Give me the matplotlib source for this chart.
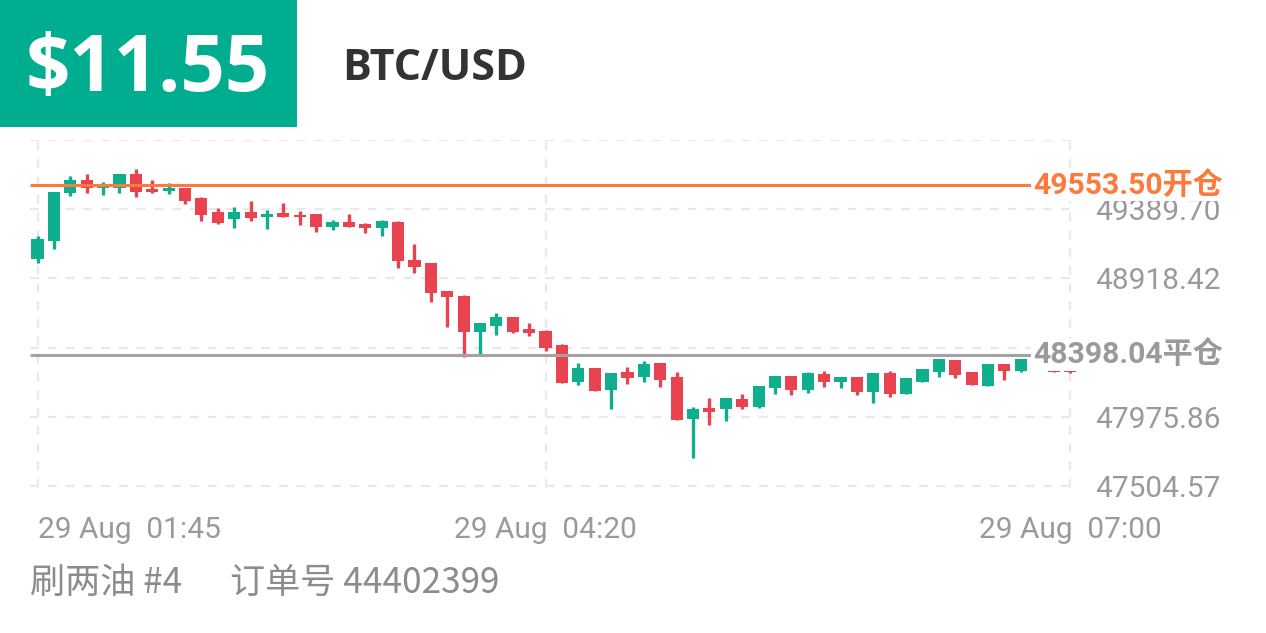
import matplotlib
matplotlib.use("Agg")
import matplotlib.pyplot as plt
from matplotlib.patches import Rectangle
import matplotlib.transforms as mtransforms
import numpy as np

# ---------------- data ----------------
pnl_text = "$11.55"
symbol = "BTC/USD"
footer_left = "刷两油 #4"
footer_right = "订单号 44402399"

# 5-minute candles, 29 Aug 01:45 -> 07:00
opens = [49050, 49173, 49500, 49588, 49534, 49534, 49629, 49527, 49514, 49534,
         49466, 49370, 49323, 49370, 49336, 49364, 49350, 49357, 49268, 49302,
         49289, 49262, 49302, 49044, 49023, 48833, 48798, 48553, 48594, 48655,
         48574, 48560, 48465, 48213, 48308, 48158, 48281, 48247, 48342, 48247,
         47961, 48036, 48029, 48097, 48043, 48172, 48254, 48158, 48267, 48213,
         48247, 48145, 48274, 48131, 48213, 48281, 48363, 48281, 48186, 48335,
         48288, 48369, 48295, 48295]
closes = [49187, 49507, 49588, 49534, 49554, 49629, 49507, 49507, 49534, 49445,
          49350, 49296, 49370, 49330, 49357, 49336, 49336, 49268, 49302, 49268,
          49262, 49309, 49037, 48996, 48819, 48792, 48553, 48615, 48655, 48553,
          48546, 48444, 48206, 48308, 48152, 48274, 48240, 48335, 48226, 47954,
          48029, 48008, 48104, 48043, 48186, 48254, 48158, 48274, 48213, 48247,
          48145, 48274, 48131, 48240, 48301, 48369, 48260, 48192, 48335, 48288,
          48369, 48335, 48281, 48281]
highs = [49207, 49507, 49616, 49629, 49575, 49629, 49663, 49588, 49568, 49534,
         49473, 49398, 49405, 49445, 49384, 49432, 49377, 49357, 49316, 49357,
         49296, 49316, 49309, 49153, 49023, 48833, 48805, 48615, 48683, 48655,
         48615, 48567, 48472, 48342, 48308, 48274, 48315, 48356, 48342, 48281,
         48043, 48104, 48104, 48131, 48186, 48254, 48254, 48281, 48288, 48247,
         48247, 48274, 48288, 48240, 48301, 48369, 48363, 48281, 48335, 48335,
         48369, 48369, 48295, 48301]
lows = [49023, 49119, 49479, 49500, 49486, 49500, 49473, 49500, 49493, 49425,
        49309, 49289, 49262, 49309, 49255, 49336, 49282, 49234, 49248, 49268,
        49227, 49207, 48989, 48955, 48758, 48587, 48383, 48403, 48533, 48546,
        48526, 48424, 48206, 48192, 48152, 48029, 48199, 48213, 48179, 47954,
        47695, 47920, 47947, 48029, 48036, 48131, 48124, 48138, 48179, 48172,
        48124, 48070, 48111, 48131, 48213, 48247, 48240, 48192, 48186, 48226,
        48281, 48322, 48281, 48274]

open_price = 49553.50
close_price = 48398.04
open_label = "49553.50开仓"
close_label = "48398.04平仓"

grid_values = [47504.57, 47975.86, 48447.14, 48918.42, 49389.70, 49860.99]
ytick_values = [47504.57, 47975.86, 48918.42, 49389.70]
ytick_labels = ["47504.57", "47975.86", "48918.42", "49389.70"]

xtick_idx = [0, 31, 63]
xtick_labels = ["29 Aug  01:45", "29 Aug  04:20", "29 Aug  07:00"]

# ---------------- style ----------------
GREEN = "#0fae8c"
RED = "#e8434f"
ORANGE = "#fb7a3c"
LINEGRAY = "#a3a3a3"
TEXTGRAY = "#9a9a9a"
GRID = "#e9e9e9"

W, H = 1266, 633
fig = plt.figure(figsize=(W / 100, H / 100), dpi=100)
fig.patch.set_facecolor("white")

def fx(px):
    return px / W

def fy(py):
    return 1 - py / H

# header
fig.patches.append(Rectangle((0, fy(127)), fx(297), 127 / H, transform=fig.transFigure,
                             facecolor="#00ad8f", edgecolor="none"))
fig.text(fx(148), fy(70), pnl_text, color="white", fontsize=56, fontweight="bold",
         family="Open Sans", ha="center", va="center")
fig.text(fx(342), fy(68), symbol, color="#333333", fontsize=31, fontweight="bold",
         family="Open Sans", ha="left", va="center")

# main axes
left_px, right_px, top_px, bot_px = 30, 1077, 140, 488
ax = fig.add_axes([fx(left_px), fy(bot_px), fx(right_px - left_px), (bot_px - top_px) / H])
ax.set_facecolor("none")
for s in ax.spines.values():
    s.set_visible(False)

n = len(opens)
x = np.arange(n)
ax.set_xlim(-0.46, 63.43)
ax.set_ylim(47490.9, 49860.99)

# grid
for v in grid_values:
    ax.axhline(v, color=GRID, lw=1.6, ls=(0, (4, 4)), zorder=0)
for i in xtick_idx:
    ax.axvline(i, color=GRID, lw=1.6, ls=(0, (4, 4)), zorder=0)

# candles
o = np.array(opens, float)
c = np.array(closes, float)
h = np.array(highs, float)
l = np.array(lows, float)
cols = np.where(c > o, GREEN, RED)
ax.vlines(x, l, h, colors=cols, lw=2.4, zorder=3)
body_bottom = np.minimum(o, c)
body_h = np.maximum(np.abs(c - o), 14)
ax.bar(x, body_h, bottom=body_bottom, width=0.74, color=cols, zorder=4, linewidth=0)

# y tick labels (right)
ax.yaxis.tick_right()
ax.set_yticks(ytick_values)
ax.set_yticklabels(ytick_labels)
ax.tick_params(axis="y", length=0, pad=13, labelsize=21.5, labelcolor=TEXTGRAY)
for t in ax.get_yticklabels():
    t.set_family("Roboto")
ax.set_xticks([])

# x tick labels
trans_x = mtransforms.blended_transform_factory(ax.transData, fig.transFigure)
has = ["left", "center", "center"]
for i, lab, ha in zip(xtick_idx, xtick_labels, has):
    ax.text(i, fy(530), lab, transform=trans_x, ha=ha, va="center", fontsize=21.5,
            color=TEXTGRAY, family="Roboto", clip_on=False)

# position lines
line_end = (1033 - left_px) / (right_px - left_px)
trans_l = mtransforms.blended_transform_factory(ax.transAxes, ax.transData)
ax.plot([0, line_end], [open_price, open_price], transform=trans_l, color=ORANGE,
        lw=2.2, zorder=6, clip_on=False, solid_capstyle="butt")
ax.plot([0, line_end], [close_price, close_price], transform=trans_l, color=LINEGRAY,
        lw=2.2, zorder=6, clip_on=False, solid_capstyle="butt")
ax.text(line_end, open_price, open_label, transform=trans_l, ha="left", va="center",
        fontsize=21.7, fontweight="bold", color=ORANGE,
        family=["Roboto", "Noto Sans CJK SC"], zorder=10, clip_on=False,
        bbox=dict(facecolor="white", edgecolor="none", pad=1.0))
ax.text(line_end, close_price, close_label, transform=trans_l, ha="left", va="center",
        fontsize=21.7, fontweight="bold", color=TEXTGRAY,
        family=["Roboto", "Noto Sans CJK SC"], zorder=10, clip_on=False,
        bbox=dict(facecolor="white", edgecolor="none", pad=1.0))

# footer
fig.text(fx(30), fy(583), footer_left, fontsize=25.3, color="#8c8c8c",
         family=["Noto Sans CJK SC", "DejaVu Sans"], ha="left", va="center")
fig.text(fx(230), fy(583), footer_right, fontsize=25.3, color="#8c8c8c",
         family=["Noto Sans CJK SC", "DejaVu Sans"], ha="left", va="center")

fig.savefig("out.png", dpi=100, facecolor="white")
